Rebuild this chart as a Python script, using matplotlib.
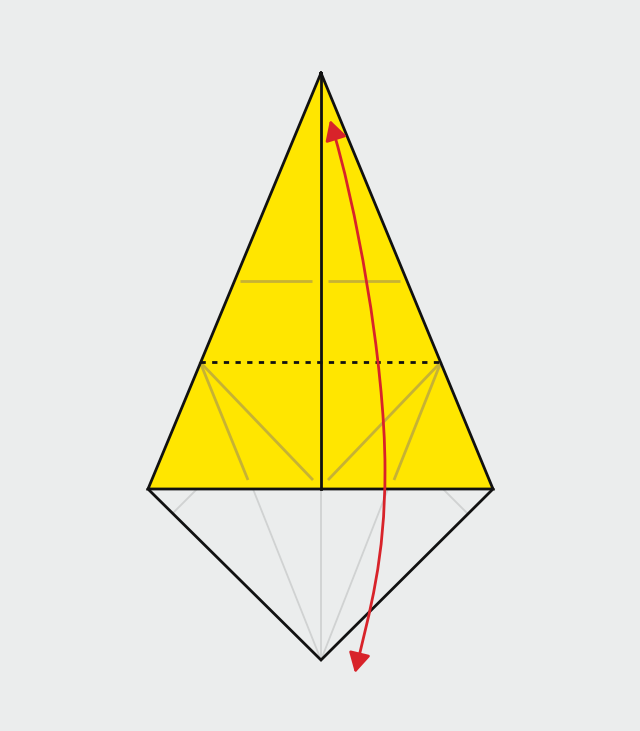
import matplotlib
matplotlib.use("Agg")
import matplotlib.pyplot as plt
from matplotlib.patches import Polygon, FancyArrowPatch
from matplotlib.path import Path

# picture coordinates in pixels (y grows downwards)
top = (321, 73)
base_left = (148, 489)
base_right = (493, 489)
bottom = (321, 660)

# creases inside the yellow part
dashed_fold = [(200, 362), (441, 362)]
yellow_creases = [
    [(240, 281), (312, 281)],
    [(328, 281), (400, 281)],
    [(200, 362), (248, 480)],
    [(200, 362), (313, 480)],
    [(441, 362), (328, 480)],
    [(441, 362), (394, 480)],
]
# creases on the lower (white) part
grey_creases = [
    [(321, 489), (321, 660)],
    [(253, 489), (321, 660)],
    [(388, 489), (321, 660)],
    [(197, 489), (173, 513)],
    [(443, 489), (467, 513)],
]
# red fold arrow, two cubic bezier pieces
arrow_pts = [(330, 120), (355, 200), (385, 360), (385, 470),
             (385, 560), (370, 610), (355, 673)]

bg = "#ebeded"
yellow = "#ffe600"
olive = "#c6b235"
light = "#d0d2d2"
red = "#d8232a"
ink = "#111111"

fig = plt.figure(figsize=(6.4, 7.31), dpi=100, facecolor=bg)
ax = fig.add_axes([0, 0, 1, 1])
ax.set_facecolor(bg)
ax.set_xlim(0, 640)
ax.set_ylim(731, 0)
ax.axis("off")

ax.add_patch(Polygon([top, base_left, base_right], closed=True,
                     facecolor=yellow, edgecolor="none", zorder=1))

for seg in grey_creases:
    xs, ys = zip(*seg)
    ax.plot(xs, ys, color=light, lw=1.3, zorder=2)
for seg in yellow_creases:
    xs, ys = zip(*seg)
    ax.plot(xs, ys, color=olive, lw=2.0, zorder=2, solid_capstyle="butt")

xs, ys = zip(*dashed_fold)
ax.plot(xs, ys, color=ink, lw=2.0, ls=(0, (1.9, 2.3)), zorder=3)

# outline
xs, ys = zip(*[top, base_left, base_right, top])
ax.plot(xs, ys, color=ink, lw=2.0, zorder=3, solid_joinstyle="miter")
xs, ys = zip(*[base_left, bottom, base_right])
ax.plot(xs, ys, color=ink, lw=2.0, zorder=3, solid_joinstyle="miter")
ax.plot([top[0], top[0]], [top[1], base_left[1]], color=ink, lw=2.0, zorder=3)

codes = [Path.MOVETO] + [Path.CURVE4] * 6
arrow = FancyArrowPatch(path=Path(arrow_pts, codes),
                        arrowstyle="<|-|>,head_length=0.6,head_width=0.33",
                        mutation_scale=20, color=red, lw=2.0, zorder=4)
ax.add_patch(arrow)

fig.savefig("out.png", dpi=100, facecolor=bg)
